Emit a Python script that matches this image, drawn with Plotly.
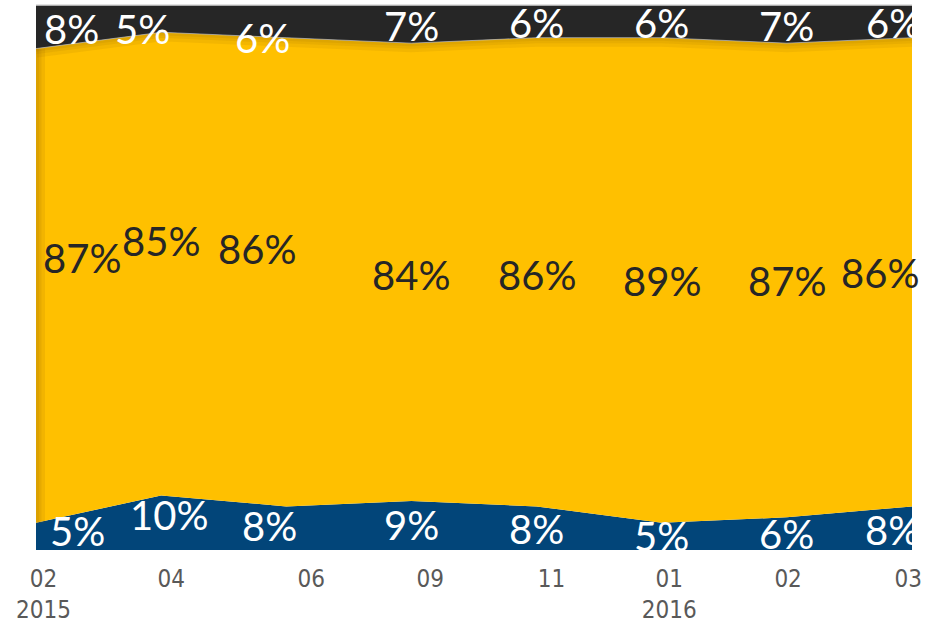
import plotly.graph_objects as go

# ---- data ----
months = ["02<br>2015", "04", "06", "09", "11", "01<br>2016", "02", "03"]
blue_vals = [5, 10, 8, 9, 8, 5, 6, 8]
yellow_vals = [87, 85, 86, 84, 86, 89, 87, 86]
dark_vals = [8, 5, 6, 7, 6, 6, 7, 6]

# ---- styles ----
BLUE = "#024579"
YELLOW = "#FFC000"
DARK = "#262626"
LABEL_FONT = "Lato, 'Noto Sans', sans-serif"
LABEL_SIZE = 40

# label pixel nudges (layout of data labels)
blue_shift = [(41, 5), (8, 8), (-17, 2), (0, 0), (0, -1), (0, 0), (0, 0), (-20, -2)]
yellow_shift = [(46, 28), (0, 23), (-29, 23), (0, -3), (0, -3), (0, -1), (0, -1), (-32, -1)]
dark_shift = [(35, -2), (-19, -10), (-24, -17), (0, -2), (0, -2), (0, -2), (0, -2), (-19, -2)]
tick_pos = [0.06, 1.08, 2.2, 3.15, 4.12, 5.06, 6.01, 6.97]
shadow_widths = [18, 11, 6]

x = list(range(len(months)))
cum1 = [b for b in blue_vals]
cum2 = [b + y for b, y in zip(blue_vals, yellow_vals)]
cum3 = [a + d for a, d in zip(cum2, dark_vals)]

fig = go.Figure()
fig.add_trace(go.Scatter(x=x, y=[0] * len(x), mode="lines", line=dict(width=0),
                         hoverinfo="skip", showlegend=False))
fig.add_trace(go.Scatter(x=x, y=cum1, mode="lines", fill="tonexty", fillcolor=BLUE,
                         line=dict(width=0, color=BLUE), showlegend=False))
fig.add_trace(go.Scatter(x=x, y=cum2, mode="lines", fill="tonexty", fillcolor=YELLOW,
                         line=dict(width=0, color=YELLOW), showlegend=False))
# soft inner shadow of the yellow band (top boundary and left edge)
for w in shadow_widths:
    fig.add_trace(go.Scatter(x=x, y=cum2, mode="lines",
                             line=dict(width=w, color="rgba(150,100,0,0.11)"),
                             hoverinfo="skip", showlegend=False))
    fig.add_trace(go.Scatter(x=[x[0], x[0]], y=[cum1[0], cum2[0]], mode="lines",
                             line=dict(width=w, color="rgba(150,100,0,0.12)"),
                             hoverinfo="skip", showlegend=False))
# anchor for the dark band so its fill is drawn above the shadow
fig.add_trace(go.Scatter(x=x, y=cum2, mode="lines", line=dict(width=0),
                         hoverinfo="skip", showlegend=False))
fig.add_trace(go.Scatter(x=x, y=cum3, mode="lines", fill="tonexty", fillcolor=DARK,
                         line=dict(width=0, color=DARK), showlegend=False))
# thin light edge on the boundary
fig.add_trace(go.Scatter(x=x, y=cum2, mode="lines",
                         line=dict(width=1, color="rgba(200,200,200,0.6)"),
                         hoverinfo="skip", showlegend=False))

annotations = []
for i in x:
    centers = [
        (blue_vals[i] / 2, blue_vals[i], "white", blue_shift[i]),
        (cum1[i] + yellow_vals[i] / 2, yellow_vals[i], DARK, yellow_shift[i]),
        (cum2[i] + dark_vals[i] / 2, dark_vals[i], "white", dark_shift[i]),
    ]
    for yc, v, col, (dx, dy) in centers:
        annotations.append(dict(
            x=i, y=yc, xref="x", yref="y", text=f"{v}%", showarrow=False,
            font=dict(family=LABEL_FONT, size=LABEL_SIZE, color=col),
            xanchor="center", yanchor="middle", xshift=dx, yshift=dy,
        ))

fig.update_layout(
    width=934, height=624,
    margin=dict(l=36, r=22, t=5, b=74),
    paper_bgcolor="white", plot_bgcolor="white",
    annotations=annotations,
    shapes=[dict(type="line", xref="paper", yref="paper", x0=0, x1=1, y0=1, y1=1,
                 line=dict(color="#D9D9D9", width=1.5))],
    xaxis=dict(range=[0, 7], showgrid=False, zeroline=False, showline=False,
               tickmode="array", tickvals=tick_pos, ticktext=months, ticks="",
               ticklabelstandoff=12, automargin=False,
               tickfont=dict(family="'DejaVu Sans Condensed', 'DejaVu Sans', sans-serif",
                             size=24, color="#595959")),
    yaxis=dict(range=[0, 100], visible=False, fixedrange=True, automargin=False),
)

fig.write_html("out.html", config={"displayModeBar": False},
               post_script="document.body.style.margin='0';document.body.style.overflow='hidden';")
